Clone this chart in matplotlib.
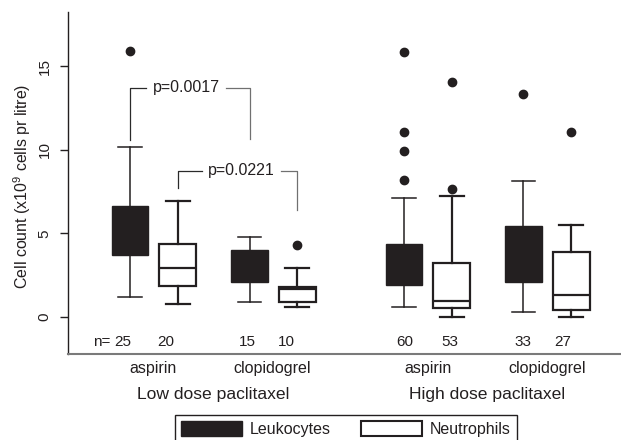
import matplotlib
matplotlib.use('Agg')
import matplotlib.pyplot as plt
from matplotlib.patches import Patch

plt.rcParams['font.family'] = ['Liberation Sans', 'DejaVu Sans']
plt.rcParams['mathtext.fontset'] = 'custom'
plt.rcParams['mathtext.rm'] = 'Liberation Sans'
plt.rcParams['mathtext.it'] = 'Liberation Sans:italic'
plt.rcParams['mathtext.bf'] = 'Liberation Sans:bold'

# ---------------- data ----------------
group_names = ['Low dose paclitaxel', 'High dose paclitaxel']
drug_names = ['aspirin', 'clopidogrel', 'aspirin', 'clopidogrel']
cell_types = ['Leukocytes', 'Neutrophils']
# order: low-asp Leu, low-asp Neu, low-clo Leu, low-clo Neu, high-asp Leu, high-asp Neu, high-clo Leu, high-clo Neu
box_cell = ['Leukocytes', 'Neutrophils'] * 4
n_counts = [25, 20, 15, 10, 60, 53, 33, 27]
whislo = [1.2, 0.8, 0.9, 0.6, 0.62, 0.02, 0.3, 0.02]
q1 = [3.69, 1.87, 2.07, 0.92, 1.91, 0.52, 2.08, 0.39]
med = [4.9, 2.91, 3.0, 1.67, 3.0, 0.95, 3.6, 1.32]
q3 = [6.65, 4.38, 4.02, 1.79, 4.34, 3.23, 5.44, 3.9]
whishi = [10.14, 6.93, 4.8, 2.93, 7.11, 7.26, 8.14, 5.52]
fliers = [[15.92], [], [], [4.31], [8.19, 9.92, 11.04, 15.86], [7.63, 14.05], [13.35], [11.04]]
p_texts = ['p=0.0017', 'p=0.0221']
p_pairs = [(0, 2), (1, 3)]

# ---------------- layout ----------------
positions = [1, 2, 3.5, 4.5, 6.73, 7.73, 9.23, 10.23]
n_label_x = [0.84, 1.74, 3.45, 4.27, 6.75, 7.70, 9.22, 10.04]
drug_label_x = [1.49, 3.98, 7.23, 9.72]
group_label_x = [2.75, 8.47]
bracket_top = [13.7, 8.74]
bracket_bottoms = [(10.58, 10.66), (7.69, 6.4)]
bracket_text_x = [2.17, 3.33]

DARK = '#231f20'

fig = plt.figure(figsize=(6.21, 4.40), dpi=100)
ax = fig.add_axes([68 / 621, (440 - 354) / 440, 553 / 621, 342 / 440])

stats = []
for k in range(len(n_counts)):
    stats.append(dict(med=med[k], q1=q1[k], q3=q3[k], whislo=whislo[k],
                      whishi=whishi[k], fliers=fliers[k]))

leu_idx = [k for k in range(len(stats)) if box_cell[k] == 'Leukocytes']
neu_idx = [k for k in range(len(stats)) if box_cell[k] == 'Neutrophils']

ax.bxp([stats[k] for k in leu_idx], positions=[positions[k] for k in leu_idx],
       widths=0.77, capwidths=0.5, patch_artist=True, showfliers=True,
       boxprops=dict(facecolor=DARK, edgecolor=DARK, linewidth=1.0),
       whiskerprops=dict(color=DARK, linewidth=1.1),
       capprops=dict(color=DARK, linewidth=1.1),
       medianprops=dict(color=DARK, linewidth=1.0),
       flierprops=dict(marker='o', markerfacecolor=DARK, markeredgecolor=DARK, markersize=6))
ax.bxp([stats[k] for k in neu_idx], positions=[positions[k] for k in neu_idx],
       widths=0.77, capwidths=0.5, patch_artist=True, showfliers=True,
       boxprops=dict(facecolor='white', edgecolor=DARK, linewidth=1.6),
       whiskerprops=dict(color=DARK, linewidth=1.6),
       capprops=dict(color=DARK, linewidth=1.6),
       medianprops=dict(color=DARK, linewidth=1.6),
       flierprops=dict(marker='o', markerfacecolor=DARK, markeredgecolor=DARK, markersize=6))

ax.set_xlim(-0.297, 11.27)
ax.set_ylim(-2.21, 18.23)
ax.set_xticks([])
ax.set_yticks([0, 5, 10, 15])
ax.set_yticklabels(['0', '5', '10', '15'])
ax.tick_params(axis='y', length=5.8, width=1.0, pad=6, labelsize=11,
               color=DARK, labelcolor=DARK)
for lab in ax.get_yticklabels():
    lab.set_rotation(90)
    lab.set_va('center')
ax.spines['top'].set_visible(False)
ax.spines['right'].set_visible(False)
ax.spines['left'].set_color(DARK)
ax.spines['left'].set_linewidth(1.0)
ax.spines['bottom'].set_color('#7a7a7a')
ax.spines['bottom'].set_linewidth(1.5)

fig.text(22.5 / 621, 1 - 186 / 440, r'Cell count (x10$^{9}$ cells pr litre)',
         rotation=90, ha='center', va='center', fontsize=11.5, color=DARK)

# n labels
ax.text(0.414, -1.52, 'n=', ha='center', va='center', fontsize=11, color=DARK)
for x, n in zip(n_label_x, n_counts):
    ax.text(x, -1.52, str(n), ha='center', va='center', fontsize=11, color=DARK)

xt = ax.get_xaxis_transform()
for x, d in zip(drug_label_x, drug_names):
    ax.text(x, (354 - 368) / 342, d, transform=xt, ha='center', va='center',
            fontsize=11.5, color=DARK, clip_on=False)
for x, g in zip(group_label_x, group_names):
    ax.text(x, (354 - 394) / 342, g, transform=xt, ha='center', va='center',
            fontsize=12.6, color=DARK, clip_on=False)

# p-value brackets
fig.canvas.draw()
renderer = fig.canvas.get_renderer()
inv = ax.transData.inverted()
for b, (i, j) in enumerate(p_pairs):
    y = bracket_top[b]
    t = ax.text(bracket_text_x[b], y, p_texts[b], ha='center', va='center',
                fontsize=11.5, color=DARK)
    ext = t.get_window_extent(renderer)
    x0 = inv.transform((ext.x0, 0))[0]
    x1 = inv.transform((ext.x1, 0))[0]
    gap = 0.13
    xl, xr = positions[i], positions[j]
    ax.plot([xl, xl, x0 - gap], [bracket_bottoms[b][0], y, y], color='#2a2a2a', lw=0.9)
    ax.plot([x1 + gap, xr, xr], [y, y, bracket_bottoms[b][1]], color='#707070', lw=0.9)

handles = [Patch(facecolor=DARK, edgecolor=DARK, linewidth=1.0),
           Patch(facecolor='white', edgecolor=DARK, linewidth=1.5)]
leg = fig.legend(handles, cell_types, loc='upper center',
                 bbox_to_anchor=(346 / 621, 1 - 415 / 440), ncol=2,
                 frameon=True, fancybox=False, edgecolor=DARK, framealpha=1,
                 handlelength=3.8, handleheight=1.0, handletextpad=0.5,
                 columnspacing=1.9, borderpad=0.4, borderaxespad=0,
                 fontsize=11.5)
leg.get_frame().set_linewidth(1.0)
for txt in leg.get_texts():
    txt.set_color(DARK)

fig.savefig('out.png', dpi=100)
